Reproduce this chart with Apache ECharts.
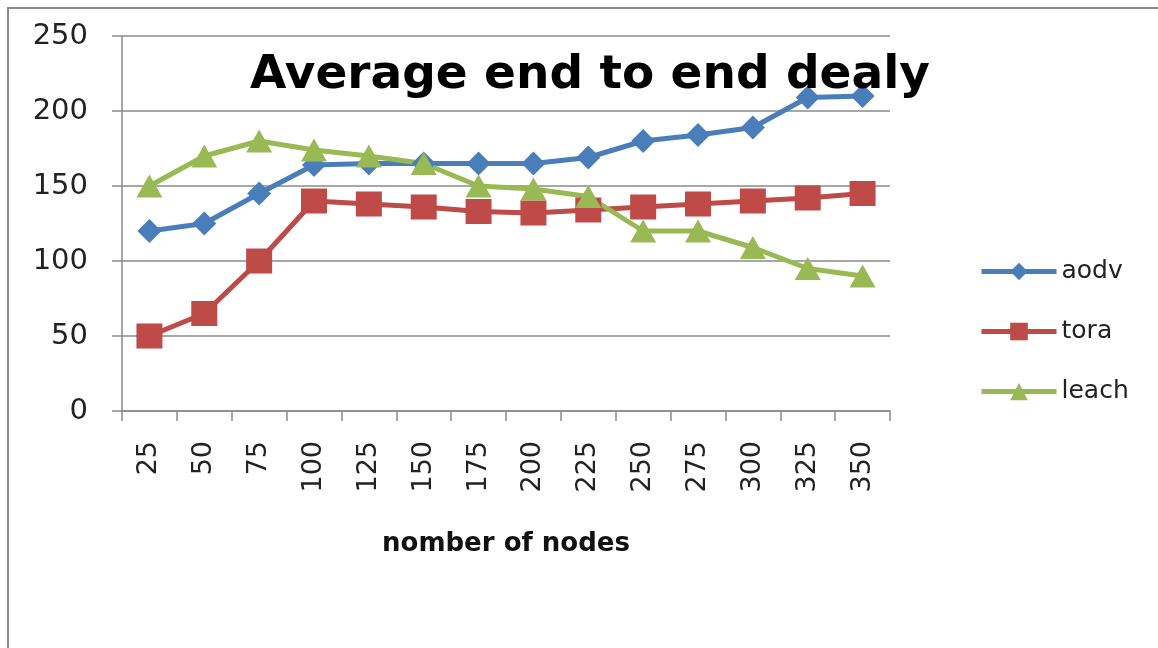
<!DOCTYPE html>
<html>
<head>
<meta charset="utf-8">
<style>
  html, body { margin: 0; padding: 0; background: #ffffff; }
  #chart { width: 1158px; height: 648px; }
</style>
<script src="https://cdn.jsdelivr.net/npm/echarts@6/dist/echarts.min.js"></script>
</head>
<body>
<div id="chart"></div>
<script>
const categories = ['25', '50', '75', '100', '125', '150', '175', '200', '225', '250', '275', '300', '325', '350'];
const aodv  = [120, 125, 145, 164, 165, 165, 165, 165, 169, 180, 184, 189, 209, 210];
const tora  = [50, 65, 100, 140, 138, 136, 133, 132, 134, 136, 138, 140, 142, 145];
const leach = [150, 170, 180, 174, 170, 165, 150, 148, 143, 120, 120, 109, 95, 90];
const yTicks = [0, 50, 100, 150, 200, 250];

const chart = echarts.init(document.getElementById('chart'), null, { renderer: 'canvas' });
const axisGrey = '#8a8a8a';
const font = 'DejaVu Sans';

function lineSeries(name, data, color, symbol, size) {
  return {
    name: name,
    type: 'line',
    data: data,
    symbol: symbol,
    symbolSize: size,
    showAllSymbol: true,
    lineStyle: { color: color, width: 5 },
    itemStyle: { color: color },
    emphasis: { disabled: true },
    animation: false,
    z: 3
  };
}

chart.setOption({
  backgroundColor: '#ffffff',
  animation: false,
  title: {
    text: 'Average end to end dealy',
    left: 585,
    top: 47,
    textAlign: 'center',
    textStyle: { fontFamily: font, fontWeight: 'bold', fontSize: 47, color: '#000000' },
    z: 10
  },
  legend: {
    orient: 'vertical',
    left: 974,
    top: 254,
    itemWidth: 75,
    itemHeight: 22,
    itemGap: 35,
    lineStyle: { width: 5 },
    textStyle: { fontFamily: font, fontSize: 25, color: '#222222' },
    data: ['aodv', 'tora', 'leach']
  },
  graphic: [{
    type: 'rect',
    shape: { x: 8, y: 8, width: 1200, height: 700 },
    style: { fill: 'none', stroke: '#8c8c8c', lineWidth: 2 },
    silent: true
  }],
  grid: { left: 122, right: 268, top: 36, bottom: 237, containLabel: false },
  xAxis: {
    type: 'category',
    data: categories,
    boundaryGap: true,
    name: 'nomber of nodes',
    nameLocation: 'middle',
    nameGap: 120,
    nameTextStyle: { fontFamily: font, fontWeight: 'bold', fontSize: 26, color: '#111111' },
    axisLine: { show: true, lineStyle: { color: axisGrey, width: 1.5 } },
    axisTick: { show: true, alignWithLabel: false, length: 10, lineStyle: { color: axisGrey, width: 1.5 } },
    axisLabel: { rotate: 90, margin: 30, fontFamily: font, fontSize: 27, color: '#222222', interval: 0 },
    splitLine: { show: false }
  },
  yAxis: {
    type: 'value',
    min: 0,
    max: 250,
    interval: 50,
    axisLine: { show: true, lineStyle: { color: axisGrey, width: 1.5 } },
    axisTick: { show: true, length: 10, lineStyle: { color: axisGrey, width: 1.5 } },
    axisLabel: {
      margin: 34, fontFamily: font, fontSize: 29, color: '#222222',
      formatter: function (v) { return yTicks.indexOf(v) >= 0 ? String(v) : ''; }
    },
    splitLine: { show: true, lineStyle: { color: axisGrey, width: 1.5 } }
  },
  series: [
    lineSeries('aodv', aodv, '#4A7EBB', 'diamond', [24, 24]),
    lineSeries('tora', tora, '#BE4B48', 'rect', [26, 25]),
    lineSeries('leach', leach, '#98B954', 'triangle', [26, 23])
  ]
});
</script>
</body>
</html>
